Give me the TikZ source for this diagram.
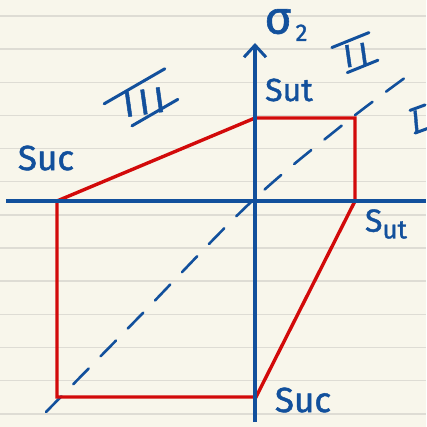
\documentclass[tikz,border=0pt]{standalone}
\usepackage{fontspec}
\setmainfont{Fira Sans}
\newfontfamily\hand{Fira Sans}[FakeBold=1.3]
\usetikzlibrary{arrows.meta}
\definecolor{paper}{HTML}{F8F6EB}
\definecolor{rulec}{HTML}{DEDCD4}
\definecolor{ink}{HTML}{12509C}
\definecolor{redink}{HTML}{D20A0A}
\begin{document}
\begin{tikzpicture}[x=1pt,y=-1pt,
  lab/.style={text=ink, font=\hand\fontsize{32}{32}\selectfont, inner sep=0pt},
  roman/.style={text=ink, font=\hand\fontsize{36}{36}\selectfont, inner sep=0pt},
  bar/.style={draw=ink, line width=3pt, line cap=round},
  axis/.style={draw=ink, line width=3.2pt},
  envelope/.style={draw=redink, line width=3.4pt, line join=miter},
  diag/.style={draw=ink, line width=2.6pt, dash pattern=on 22pt off 17pt, line cap=round}]
\fill[paper] (0,0) rectangle (426,427);
\useasboundingbox (0,0) rectangle (426,427);
\foreach \k in {0,...,12}
  \draw[rulec, line width=1.5pt] (0,{16+33.15*\k}) -- (426,{16+33.15*\k});
% coordinates
\coordinate (xl) at (6,201);
\coordinate (xr) at (426,201);
\coordinate (yb) at (255,422);
\coordinate (yt) at (255,43);
\coordinate (A) at (57,201);
\coordinate (B) at (255,118);
\coordinate (C) at (355,118);
\coordinate (D) at (355,201);
\coordinate (E) at (256,397);
\coordinate (F) at (57,397);
\coordinate (d1) at (46,412);
\coordinate (d2) at (406,77);
% diagonal (hand drawn, slightly bent)
\draw[diag] plot[smooth, tension=0.6] coordinates {(d1) (140,316) (250,203) (340,127) (d2)};
% envelope
\draw[envelope] (A) -- (B) -- (C) -- (D) -- (E) -- (F) -- cycle;
% axes
\draw[axis] (xl) -- (xr);
\draw[axis, -{Straight Barb[length=12pt,width=22pt,line width=3pt]}] (yb) -- (yt);
% labels
\node[lab, font=\hand\fontsize{46}{46}\selectfont] (sig) at (286,25) {σ\raisebox{-0.3ex}{\fontsize{24}{24}\selectfont\,2}};
\node[lab] (sut1) at (289,90) {Sut};
\node[lab, font=\hand\fontsize{35}{35}\selectfont] (suc1) at (46,158) {Suc};
\node[lab] (sut2) at (386,224) {S\raisebox{-0.4ex}{\fontsize{26}{26}\selectfont ut}};
\node[lab, font=\hand\fontsize{35}{35}\selectfont] (suc2) at (303,400) {Suc};
% roman numerals
\node[roman, rotate=8] (r3) at (144,102) {I\hspace{5pt}I\hspace{5pt}I};
\begin{scope}[shift={(143,101)}, rotate=30]
  \draw[bar] (-35,-17) -- (35,-17);
  \draw[bar] (-22,16) -- (31,16);
\end{scope}
\node[roman, font=\hand\fontsize{32}{32}\selectfont, rotate=8] (r2) at (356,55) {I\hspace{6pt}I};
\begin{scope}[shift={(356,54)}, rotate=22]
  \draw[bar] (-20,-15) -- (20,-15);
  \draw[bar] (-15,14) -- (18,14);
\end{scope}
\node[roman, font=\hand\fontsize{30}{30}\selectfont, rotate=5] (r1) at (416,121) {I};
\begin{scope}[shift={(416,121)}, rotate=20]
  \draw[bar] (-2,-12) -- (14,-12);
  \draw[bar] (-5,11) -- (14,11);
\end{scope}
\end{tikzpicture}
\end{document}
